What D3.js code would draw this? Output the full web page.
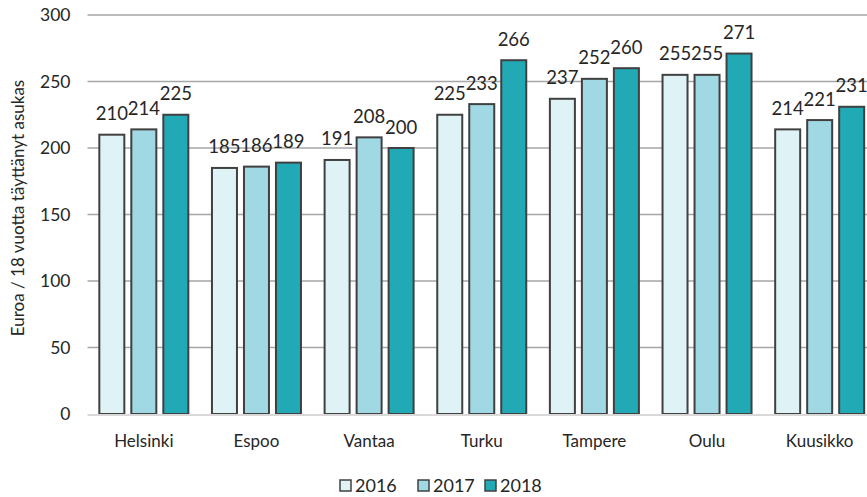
<!DOCTYPE html>
<html><head><meta charset="utf-8">
<script src="https://cdn.jsdelivr.net/npm/d3@7"></script>
<style>body{margin:0;background:#fff;}svg text{font-family:Lato, "Open Sans", sans-serif;fill:#262626;}</style>
</head><body><svg id="c" width="867" height="497"></svg>
<script>
const categories = ["Helsinki","Espoo","Vantaa","Turku","Tampere","Oulu","Kuusikko"];
const seriesNames = ["2016","2017","2018"];
const values2016 = [210,185,191,225,237,255,214];
const values2017 = [214,186,208,233,252,255,221];
const values2018 = [225,189,200,266,260,271,231];
const yTicks = [0,50,100,150,200,250,300];
const colors = ["#dff3f7","#a0d8e3","#22a9b6"];
const series = [values2016, values2017, values2018];

(function(){
const svg = d3.select("#c");
const mLeft = 87.5, mRight = 876, mTop = 15, mBottom = 414;
const x = d3.scaleBand().domain(categories).range([mLeft, mRight]).paddingInner(0).paddingOuter(0);
const y = d3.scaleLinear().domain([0,300]).range([mBottom, mTop]);
const groupW = 89, barW = 25, step = 32;

// gridlines
svg.append("g").selectAll("line").data(yTicks.filter(d=>d>0)).join("line")
  .attr("x1", mLeft).attr("x2", 867).attr("y1", d=>y(d)).attr("y2", d=>y(d))
  .attr("stroke","#a6a6a6").attr("stroke-width",1.5);

// y axis labels
const yAxis = d3.axisLeft(y).tickValues(yTicks).tickSize(0).tickPadding(17);
const ga = svg.append("g").attr("transform",`translate(${mLeft},0)`).call(yAxis);
ga.select(".domain").remove();
ga.selectAll("text").style("font-size","17.5px").attr("fill","#262626").style("font-family","Lato, sans-serif");

// bars
categories.forEach((c,i)=>{
  const g0 = x(c) + (x.bandwidth()-groupW)/2;
  series.forEach((s,j)=>{
    const bx = g0 + j*step;
    svg.append("rect").attr("x", bx).attr("y", y(s[i])).attr("width", barW).attr("height", y(0)-y(s[i]))
      .attr("fill", colors[j]).attr("stroke","#404040").attr("stroke-width",2);
    svg.append("text").attr("x", bx+barW/2).attr("y", y(s[i])-14.5).attr("text-anchor","middle")
      .style("font-size","18.5px").text(s[i]);
  });
});

// baseline
svg.append("line").attr("x1",mLeft).attr("x2",867).attr("y1",y(0)+1).attr("y2",y(0)+1)
  .attr("stroke","#d9d9d9").attr("stroke-width",2);

// x axis labels
const xAxis = d3.axisBottom(x).tickSize(0).tickPadding(0);
const gx = svg.append("g").attr("transform",`translate(0,${mBottom})`).call(xAxis);
gx.select(".domain").remove();
gx.selectAll("text").attr("dy",null).attr("y",33).style("font-size","17px").attr("fill","#262626").style("font-family","Lato, sans-serif");

// y title
svg.append("text").attr("transform",`translate(24,208) rotate(-90)`).attr("text-anchor","middle")
  .style("font-size","17px").text("Euroa / 18 vuotta täyttänyt asukas");

// legend
const legX = [340, 418, 485];
seriesNames.forEach((n,j)=>{
  svg.append("rect").attr("x",legX[j]).attr("y",480).attr("width",11).attr("height",11)
    .attr("fill",colors[j]).attr("stroke","#404040").attr("stroke-width",1.5);
  svg.append("text").attr("x",legX[j]+15).attr("y",492).style("font-size","18px").text(n);
});
})();
</script></body></html>
